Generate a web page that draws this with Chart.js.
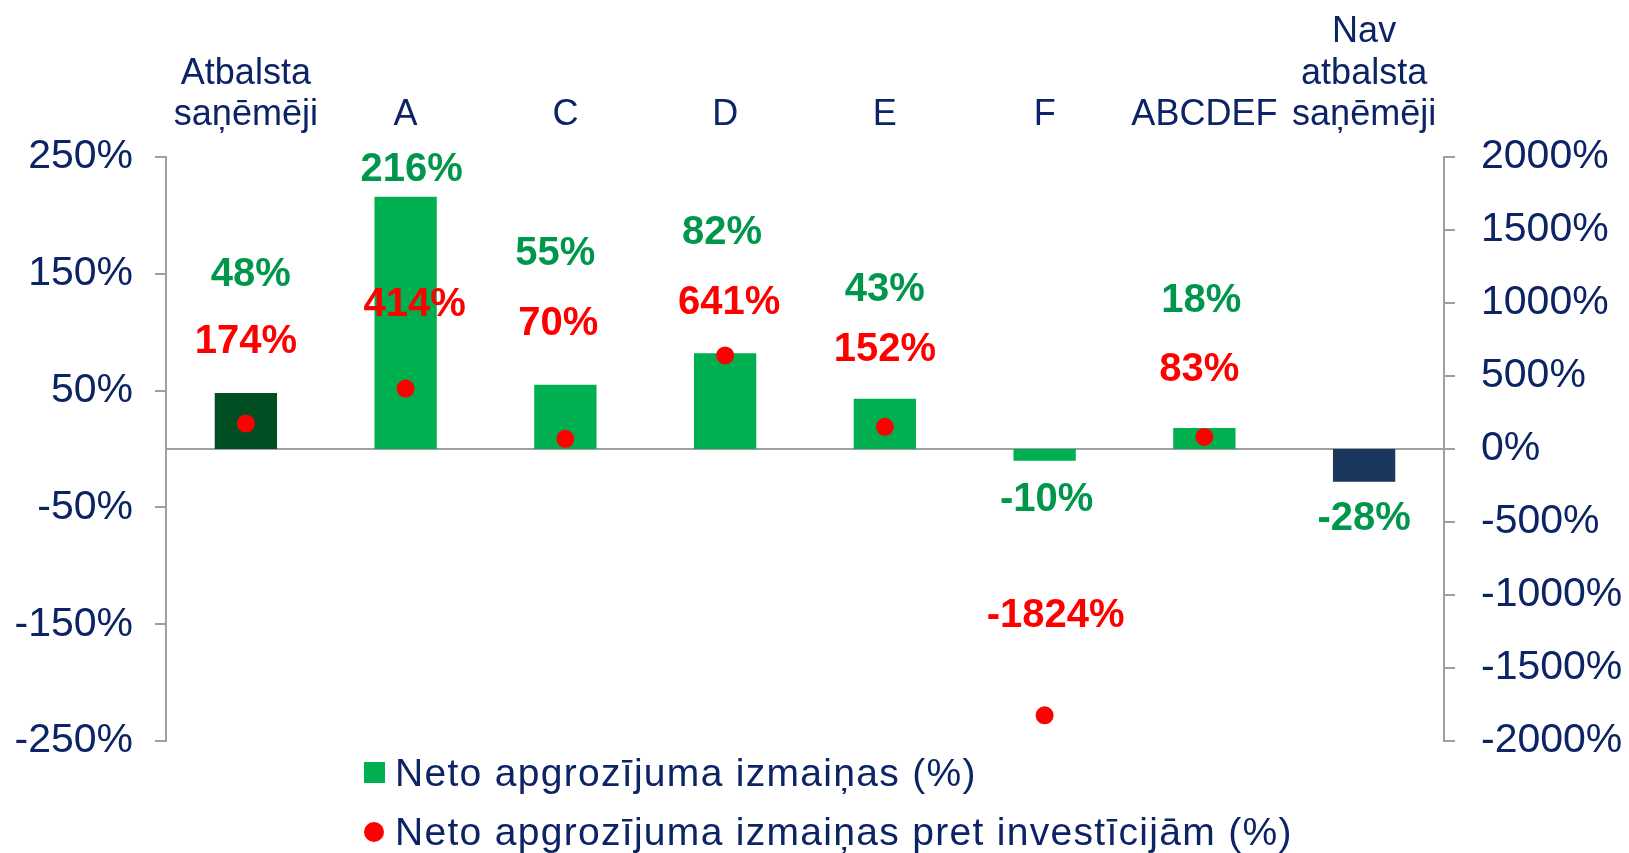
<!DOCTYPE html>
<html>
<head>
<meta charset="utf-8">
<script src="https://cdn.jsdelivr.net/npm/chart.js@4"></script>
<style>
    html, body { margin: 0; padding: 0; background: #fff; }
    #wrap { width: 1629px; height: 853px; }
</style>
</head>
<body>
<div id="wrap"><canvas id="myChart"></canvas></div>
<script>
const categories = [['Atbalsta', 'saņēmēji'], 'A', 'C', 'D', 'E', 'F', 'ABCDEF', ['Nav', 'atbalsta', 'saņēmēji']];
const turnoverChange = [48, 216, 55, 82, 43, -10, 18, -28];
const turnoverVsInvestment = [174, 414, 70, 641, 152, -1824, 83, null];
const leftTicks = [-250, -150, -50, 50, 150, 250];
const rightTicks = [-2000, -1500, -1000, -500, 0, 500, 1000, 1500, 2000];

const FONT = '"Liberation Sans", Arial, sans-serif';
const navy = '#0c2366';
const axisGrey = '#a0a0a0';
const green = '#00b050';
const barColors = ['#004f22', green, green, green, green, green, green, '#1c375e'];

// labels were moved by hand in the original, so they get their own spots (left axis units)
const valueLabels = {
    id: 'valueLabels',
    afterDatasetsDraw(chart, args, opts) {
        const ctx = chart.ctx;
        const yScale = chart.scales.y;
        ctx.save();
        ctx.font = 'bold 40px ' + FONT;
        ctx.textAlign = 'center';
        ctx.textBaseline = 'middle';
        chart.data.datasets.forEach((ds, di) => {
            const meta = chart.getDatasetMeta(di);
            const place = opts.placement[di];
            ctx.fillStyle = opts.colors[di];
            ds.data.forEach((v, i) => {
                if (v === null) return;
                const el = meta.data[i];
                ctx.fillText(v + '%', el.x + place.dx[i], yScale.getPixelForValue(place.at[i]));
            });
        });
        ctx.restore();
    }
};

const stackedLegend = {
    id: 'stackedLegend',
    afterDraw(chart, args, opts) {
        const ctx = chart.ctx;
        ctx.save();
        ctx.font = '39px ' + FONT;
        ctx.letterSpacing = '1.3px';
        ctx.textBaseline = 'middle';
        chart.data.datasets.forEach((ds, i) => {
            const cy = opts.top + i * opts.rowHeight;
            ctx.fillStyle = opts.swatches[i];
            if (ds.type === 'bar') {
                ctx.fillRect(opts.left, cy - 11, 21, 21);
            } else {
                ctx.beginPath();
                ctx.arc(opts.left + 10, cy, 10, 0, Math.PI * 2);
                ctx.fill();
            }
            ctx.fillStyle = navy;
            ctx.fillText(ds.label, opts.left + 31, cy + 2);
        });
        ctx.restore();
    }
};

const ctx = document.getElementById('myChart').getContext('2d');
new Chart(ctx, {
    data: {
        labels: categories,
        datasets: [
            {
                type: 'bar',
                label: 'Neto apgrozījuma izmaiņas (%)',
                data: turnoverChange,
                backgroundColor: barColors,
                yAxisID: 'y',
                categoryPercentage: 1,
                barPercentage: 0.39,
                order: 2
            },
            {
                type: 'line',
                label: 'Neto apgrozījuma izmaiņas pret investīcijām (%)',
                data: turnoverVsInvestment,
                showLine: false,
                pointRadius: 9,
                pointBackgroundColor: '#ff0000',
                pointBorderWidth: 0,
                yAxisID: 'y2',
                order: 1
            }
        ]
    },
    options: {
        responsive: true,
        maintainAspectRatio: false,
        animation: false,
        layout: { padding: { left: 0, right: 0, top: 0, bottom: 112 } },
        plugins: {
            legend: { display: false },
            tooltip: { enabled: false },
            valueLabels: {
                colors: ['#00964b', '#ff0000'],
                placement: [
                    { at: [149, 239, 167, 185, 136, -44, 127, -60], dx: [5, 6, -10, -3, 0, 2, -3, 0] },
                    { at: [92, 123, 107, 125, 84.5, -143, 67.6, 0], dx: [0, 9, -7, 4, 0, 11, -5, 0] }
                ]
            },
            stackedLegend: {
                left: 364,
                top: 773,
                rowHeight: 59,
                swatches: [green, '#ff0000']
            }
        },
        scales: {
            x: {
                position: 'top',
                grid: { display: false },
                border: { display: false },
                ticks: {
                    color: navy,
                    font: { size: 36, family: FONT, lineHeight: 1.15 },
                    padding: 13,
                    maxRotation: 0,
                    autoSkip: false
                },
                afterFit(scale) { scale.height = 157; }
            },
            y: {
                position: 'left',
                min: -250,
                max: 250,
                afterBuildTicks(scale) { scale.ticks = leftTicks.map(v => ({ value: v })); },
                grid: { drawOnChartArea: false, color: axisGrey, tickLength: 11, lineWidth: 2 },
                border: { color: axisGrey, width: 2 },
                ticks: {
                    color: navy,
                    font: { size: 41, family: FONT },
                    padding: 22,
                    callback: v => v + '%'
                },
                afterFit(scale) { scale.width = 166; }
            },
            y2: {
                position: 'right',
                min: -2000,
                max: 2000,
                afterBuildTicks(scale) { scale.ticks = rightTicks.map(v => ({ value: v })); },
                grid: {
                    drawOnChartArea: true,
                    color: c => (c.tick && c.tick.value === 0) ? axisGrey : 'rgba(0,0,0,0)',
                    tickColor: axisGrey,
                    tickLength: 11,
                    lineWidth: 2
                },
                border: { color: axisGrey, width: 2 },
                ticks: {
                    color: navy,
                    font: { size: 41, family: FONT },
                    padding: 26,
                    callback: v => v + '%'
                },
                afterFit(scale) { scale.width = 185; }
            }
        }
    },
    plugins: [valueLabels, stackedLegend]
});
</script>
</body>
</html>
